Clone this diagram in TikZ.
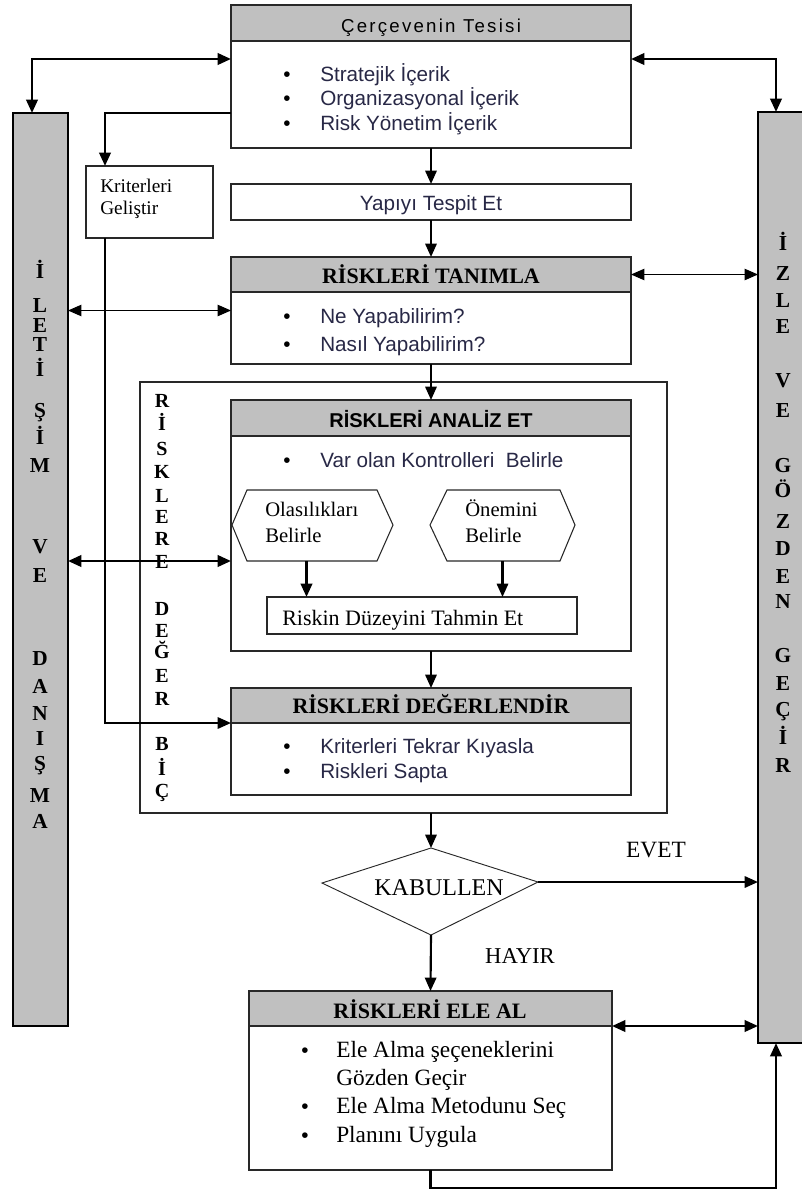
\documentclass[tikz,border=0pt]{standalone}
\usepackage{fontspec}
\setmainfont{Liberation Serif}
\setsansfont{Liberation Sans}
\usetikzlibrary{arrows.meta,fit}
\definecolor{hdr}{RGB}{192,192,192}
\definecolor{ink}{RGB}{40,40,70}
\definecolor{edge}{RGB}{40,40,40}
\newdimen\pxu \pxu=0.75pt
\begin{document}
\begin{tikzpicture}[x=0.75pt,y=-0.75pt,
  >={Triangle[length=10pt,width=8.5pt]},
  box/.style={draw=edge,line width=1.3pt,fill=white,inner sep=0pt,outer sep=0pt,fit={#1}},
  hbox/.style={box={#1},fill=hdr},
  bar/.style={draw=black,line width=1.5pt,fill=hdr,inner sep=0pt,outer sep=0pt,fit={#1}},
  ghost/.style={inner sep=0pt,outer sep=0pt,fit={#1}},
  con/.style={line width=1.6pt,draw=black},
  conT/.style={line width=2pt,draw=black},
  conS/.style={line width=0.9pt,draw=black},
  hex/.style={draw=edge,line width=0.8pt},
  sansB/.style={font=\sffamily\fontsize{15.5}{18}\selectfont,text=ink,inner sep=0pt,anchor=base west},
  dot/.style={font=\sffamily\fontsize{15.5}{18}\selectfont,text=black,inner sep=0pt,anchor=base},
  serB/.style={font=\fontsize{17.5}{20}\selectfont,text=black,inner sep=0pt,anchor=base west},
  hserif/.style={font=\bfseries\fontsize{16.5}{19}\selectfont,inner sep=0pt,anchor=base},
  hsans/.style={font=\sffamily\bfseries\fontsize{15}{18}\selectfont,inner sep=0pt,anchor=base},
  barL/.style={font=\bfseries\fontsize{16}{18}\selectfont,inner sep=0pt,anchor=base},
  midL/.style={font=\bfseries\fontsize{15}{17}\selectfont,inner sep=0pt,anchor=base},
  smallser/.style={font=\fontsize{14.5}{17}\selectfont,inner sep=0pt,anchor=base west},
  midser/.style={font=\fontsize{15.5}{18}\selectfont,inner sep=0pt,anchor=base west}
]
\useasboundingbox (0,0) rectangle (802,1189);

% side bars
\node[bar={(13,113)(68,1026)}] (lbar) {};
\node[bar={(758,112)(812,1043)}] (rbar) {};
\foreach \ch/\yy [count=\i] in {İ/278,L/312,E/332,T/351,İ/376,Ş/417,İ/444,M/472,V/553,E/582,D/665,A/693,N/720,I/745,Ş/770,M/802,A/828}
  \node[barL] (ll\i) at (40,\yy) {\ch};
\foreach \ch/\yy [count=\i] in {İ/250,Z/280,L/307,E/333,V/387,E/417,G/472,Ö/497,Z/528,D/555,E/583,N/608,G/662,E/690,Ç/716,İ/744,R/772}
  \node[barL] (rl\i) at (783,\yy) {\ch};

% top box
\node[box={(231,5)(631,148)}] (top) {};
\node[hbox={(231,5)(631,41)}] (topH) {};
\node[font=\sffamily\fontsize{14}{16}\selectfont\addfontfeature{LetterSpace=12},inner sep=0pt,anchor=base] (topT) at (431,32) {Çerçevenin Tesisi};
\foreach \yy/\tx [count=\i] in {81/Stratejik İçerik,105/Organizasyonal İçerik,130/Risk Yönetim İçerik}{
  \node[dot] (tb\i) at (287,\yy) {•};
  \node[sansB] (tt\i) at (320,\yy) {\tx};
}

% criteria box
\node[box={(86,166)(213,238)}] (krit) {};
\node[smallser] (kritA) at (100,192) {Kriterleri};
\node[smallser] (kritB) at (100,214) {Geliştir};

% structure box
\node[box={(231,184)(631,220)}] (yap) {};
\node[font=\sffamily\fontsize{15.5}{18}\selectfont,text=ink,inner sep=0pt,anchor=base] (yapT) at (431,210) {Yapıyı Tespit Et};

% identify
\node[box={(231,257)(631,364)}] (tan) {};
\node[hbox={(231,257)(631,292)}] (tanH) {};
\node[hserif] (tanT) at (431,283) {RİSKLERİ TANIMLA};
\foreach \yy/\tx [count=\i] in {323/Ne Yapabilirim?,351/Nasıl Yapabilirim?}{
  \node[dot] (nb\i) at (287,\yy) {•};
  \node[sansB] (nt\i) at (320,\yy) {\tx};
}

% outer evaluation box
\node[box={(140,382)(667,813)},line width=1.1pt] (outer) {};
\foreach \ch/\yy [count=\i] in {R/407,İ/430,S/455,K/478,L/502,E/523,R/545,E/568,D/615,E/637,Ğ/658,E/682,R/705,B/750,İ/775,Ç/797}
  \node[midL] (ml\i) at (162,\yy) {\ch};

% analyse
\node[box={(231,400)(631,651)}] (ana) {};
\node[hbox={(231,400)(631,436)}] (anaH) {};
\node[hsans] (anaT) at (431,427) {RİSKLERİ ANALİZ ET};
\node[dot] (ab1) at (287,467) {•};
\node[sansB] (at1) at (320,467) {Var olan Kontrolleri\ \ Belirle};

% hexagons
\draw[hex] (232,525) -- (247,490) -- (377,490) -- (393,525) -- (377,561) -- (247,561) -- cycle;
\node[ghost={(232,490)(393,561)}] (ola) {};
\node[midser] (olaA) at (265,516) {Olasılıkları};
\node[midser] (olaB) at (265,542) {Belirle};
\draw[hex] (430,525) -- (447,490) -- (560,490) -- (575,525) -- (560,561) -- (447,561) -- cycle;
\node[ghost={(430,490)(575,561)}] (one) {};
\node[midser] (oneA) at (465,516) {Önemini};
\node[midser] (oneB) at (465,542) {Belirle};

% risk level
\node[box={(267,597)(577,634)}] (risk) {};
\node[font=\fontsize{16.5}{19}\selectfont,inner sep=0pt,anchor=base west] (riskT) at (282,625) {Riskin Düzeyini Tahmin Et};

% evaluate
\node[box={(231,688)(631,795)}] (deg) {};
\node[hbox={(231,688)(631,723)}] (degH) {};
\node[hserif] (degT) at (431,713) {RİSKLERİ DEĞERLENDİR};
\foreach \yy/\tx [count=\i] in {753/Kriterleri Tekrar Kıyasla,778/Riskleri Sapta}{
  \node[dot] (db\i) at (287,\yy) {•};
  \node[sansB] (dt\i) at (320,\yy) {\tx};
}

% decision
\coordinate (dL) at (322,883);
\coordinate (dT) at (431,848);
\coordinate (dR) at (538,882);
\coordinate (dB) at (431,935);
\draw[hex,line width=0.7pt] (dL) -- (dT) -- (dR) -- (dB) -- cycle;
\node[font=\fontsize{18}{20}\selectfont,inner sep=0pt,anchor=base] (kab) at (439,895) {KABULLEN};
\node[font=\fontsize{17.5}{20}\selectfont,inner sep=0pt,anchor=base] (evet) at (656,857) {EVET};
\node[font=\fontsize{17}{20}\selectfont,inner sep=0pt,anchor=base] (hayir) at (520,963) {HAYIR};

% treat
\node[box={(249,991)(612,1170)}] (ele) {};
\node[hbox={(249,991)(612,1026)}] (eleH) {};
\node[hserif] (eleT) at (430,1018) {RİSKLERİ ELE AL};
\node[dot] (eb1) at (305,1057) {•};
\node[serB] (et1) at (336,1057) {Ele Alma şeçeneklerini};
\node[serB] (et2) at (336,1085) {Gözden Geçir};
\node[dot] (eb3) at (305,1113) {•};
\node[serB] (et3) at (336,1113) {Ele Alma Metodunu Seç};
\node[dot] (eb4) at (305,1142) {•};
\node[serB] (et4) at (336,1142) {Planını Uygula};

% connectors
\draw[conT,<->] ([xshift=19\pxu]lbar.north west) |- ([yshift=-54\pxu]top.north west);
\draw[conT,<->] ([xshift=18\pxu]rbar.north west) |- ([yshift=-54\pxu]top.north east);
\draw[conT,->] ([yshift=-108\pxu]top.north west) -| ([xshift=19\pxu]krit.north west);
\draw[con,->] ([xshift=19\pxu]krit.south west) |- (degH.south west);
\draw[con,->] (top.south) -- (yap.north);
\draw[con,->] (yap.south) -- (tan.north);
\draw[conS,<->] (lbar.east |- tan.west) -- (tan.west);
\draw[conS,<->] (tanH.east) -- (tanH.east -| rbar.west);
\draw[con,->] (tan.south) -- (ana.north);
\draw[conT,<->] (lbar.east |- ola.south) -- (ana.west |- ola.south);
\draw[conT,->] ([xshift=-6\pxu]ola.south) -- ([xshift=-6\pxu]ola.south |- risk.north);
\draw[con,->] (one.south) -- (one.south |- risk.north);
\draw[con,->] (ana.south) -- (deg.north);
\draw[con,->] (outer.south -| deg.south) -- (dT);
\draw[con,->] (dR) -- (dR -| rbar.west);
\draw[con,->] (dB) -- (ele.north);
\draw[conT,<->] (eleH.south east) -- (eleH.south east -| rbar.west);
\draw[conT,->] (ele.south) -- ++(0,18) -| ([xshift=18\pxu]rbar.south west);
\end{tikzpicture}
\end{document}
